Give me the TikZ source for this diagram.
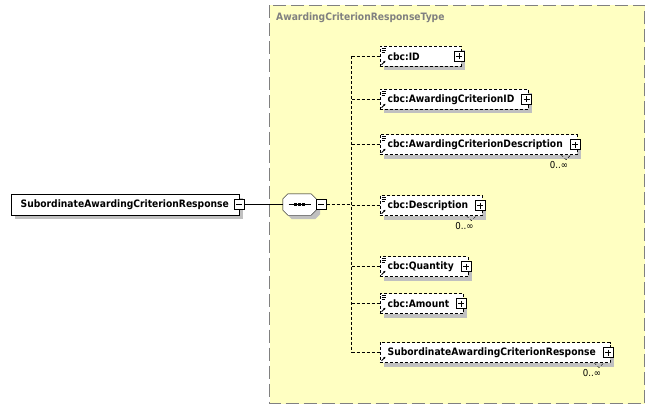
\documentclass[tikz,border=0pt]{standalone}
\usepackage{fontspec}
\setmainfont{DejaVu Sans Condensed}
\usetikzlibrary{shadows,arrows.meta}

\definecolor{typefill}{RGB}{255,255,194}
\definecolor{typeline}{RGB}{128,128,128}
\definecolor{shade}{RGB}{192,192,192}

\newcommand{\eltext}[1]{\hspace*{8pt}#1\hspace*{14pt}}
% small icons of the element boxes
\newcommand{\simpleicon}[1]{%
  \draw[line width=0.6pt] ([xshift=2pt,yshift=-2pt]#1.north west) -- ++(4pt,0pt);
  \draw[line width=0.6pt] ([xshift=2pt,yshift=-4pt]#1.north west) -- ++(4pt,0pt);
  \draw[line width=0.6pt] ([xshift=2pt,yshift=-6pt]#1.north west) -- ++(3pt,0pt);}
\newcommand{\reficon}[1]{%
  \draw[line width=0.8pt,-{Latex[length=2pt,width=2.4pt]}] ([xshift=2pt,yshift=2pt]#1.south west) -- ++(4pt,4pt);}
\newcommand{\manyocc}[2]{%
  \draw[conn] ([xshift=-16pt]#1.south east) -- ++(5pt,-5pt) -- ++(5pt,5pt);
  \node[occurs] (#2) at ([xshift=-18pt,yshift=-5pt]#1.south east) {0..∞};}

\tikzset{
  elem/.style={draw, dash pattern=on 3pt off 2pt, fill=white, inner xsep=0pt,
    inner ysep=0pt, minimum height=20pt, anchor=west,
    font=\fontsize{10.2}{11}\selectfont\bfseries,
    drop shadow={shadow xshift=4pt, shadow yshift=-4pt, fill=shade, opacity=1}},
  root/.style={elem, solid, minimum height=21pt},
  conn/.style={dash pattern=on 3pt off 2pt},
  expand/.style={draw, solid, fill=white, minimum size=10pt, inner sep=0pt},
  minus/.style={expand, path picture={
    \draw ([xshift=2pt]path picture bounding box.west) -- ([xshift=-2pt]path picture bounding box.east);}},
  plus/.style={expand, path picture={
    \draw ([xshift=2pt]path picture bounding box.west) -- ([xshift=-2pt]path picture bounding box.east);
    \draw ([yshift=-2pt]path picture bounding box.north) -- ([yshift=2pt]path picture bounding box.south);}},
  sequence/.style={minimum width=33pt, minimum height=21pt, inner sep=0pt},
  occurs/.style={anchor=north, inner sep=1pt, font=\fontsize{9.6}{10}\selectfont}
}

\begin{document}
\begin{tikzpicture}[x=1pt,y=-1pt]
  \useasboundingbox (0,0) rectangle (655,409);

  % complex type region
  \draw[typeline, fill=typefill, dash pattern=on 13pt off 5pt] (269.5,5.5) rectangle (644.5,403.5);
  \node[anchor=west, inner sep=0pt, text=typeline, font=\fontsize{10.2}{11}\selectfont\bfseries]
    (typename) at (276,18) {AwardingCriterionResponseType};

  % root element and sequence
  \node[root] (subroot) at (10.5,204.5) {\hspace*{10pt}SubordinateAwardingCriterionResponse\hspace*{10pt}};
  \node[minus] (subroot-minus) at (subroot.east) {};
  \node[sequence] (seq) at (299.5,204.5) {};
  \draw[fill=white, drop shadow={shadow xshift=4pt, shadow yshift=-4pt, fill=shade, opacity=1}]
    ([xshift=5pt]seq.north west) -- ([xshift=-5pt]seq.north east)
    -- ([yshift=-5pt]seq.north east) -- ([yshift=5pt]seq.south east)
    -- ([xshift=-5pt]seq.south east) -- ([xshift=5pt]seq.south west)
    -- ([yshift=5pt]seq.south west) -- ([yshift=-5pt]seq.north west) -- cycle;
  \node[minus, anchor=west] (seq-minus) at (seq.east) {};
  \draw ([xshift=-11pt]seq.center) -- ([xshift=11pt]seq.center);
  \foreach \dx in {-4,0,4}
    \fill ([xshift=\dx pt]seq.center) ++(-1.2pt,-1.2pt) rectangle ++(2.4pt,2.4pt);
  \draw (subroot-minus) -- (seq);

  % children
  \node[elem] (id) at (379.5,56.5) {\makebox[81pt][l]{\hspace*{8pt}cbc:ID}};
  \node[elem] (acid) at (379.5,99.5) {\eltext{cbc:AwardingCriterionID}};
  \node[elem] (acdesc) at (379.5,144.5) {\eltext{cbc:AwardingCriterionDescription}};
  \node[elem] (desc) at (379.5,205.5) {\eltext{cbc:Description}};
  \node[elem] (qty) at (379.5,266.5) {\eltext{cbc:Quantity}};
  \node[elem] (amount) at (379.5,303.5) {\eltext{cbc:Amount}};
  \node[elem] (subresp) at (379.5,352.5) {\eltext{SubordinateAwardingCriterionResponse}};

  \foreach \n in {id,acid,acdesc,desc,qty,amount} {
    \simpleicon{\n}
  }
  \foreach \n in {id,acid,acdesc,desc,qty,amount,subresp} {
    \reficon{\n}
    \node[plus] (\n-plus) at ([xshift=-2pt]\n.east) {};
  }
  \manyocc{acdesc}{acdesc-occ}
  \manyocc{desc}{desc-occ}
  \manyocc{subresp}{subresp-occ}

  % connectors
  \coordinate (spine) at (351.5,204.5);
  \draw[conn] (seq-minus) -- (spine);
  \draw[conn] (spine |- id.west) -- (spine |- subresp.west);
  \foreach \n in {id,acid,acdesc,desc,qty,amount,subresp}
    \draw[conn] (spine |- \n.west) -- (\n.west);
\end{tikzpicture}
\end{document}
